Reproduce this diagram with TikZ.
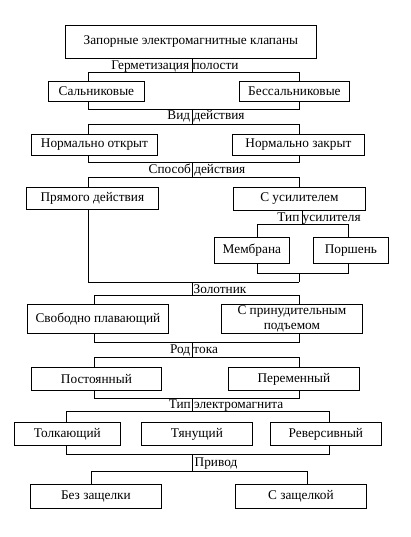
\documentclass[tikz,border=0pt]{standalone}
\usepackage{fontspec}
\setmainfont{Liberation Serif}
\usetikzlibrary{calc,positioning}

\begin{document}
\begin{tikzpicture}[
    x=1pt, y=1pt, line width=0.8pt,
    rekt/.style={rectangle,draw,inner sep=0pt,anchor=north west,align=center,font=\fontsize{13.3}{14.5}\selectfont},
    metka/.style={anchor=base,inner sep=0pt,font=\fontsize{13.3}{14.5}\selectfont}
  ]
    \useasboundingbox (0,0) rectangle (411,-537);

    % boxes
    \node (N0) at (65,-25) [rekt,minimum width=251pt,minimum height=33pt] {Запорные электромагнитные клапаны};
    \node (N1) at (48,-81) [rekt,minimum width=96pt,minimum height=20pt] {Сальниковые};
    \node (N2) at (239,-81) [rekt,minimum width=110pt,minimum height=20pt] {Бессальниковые};
    \node (N3) at (31,-134) [rekt,minimum width=126pt,minimum height=21pt] {Нормально открыт};
    \node (N4) at (232,-134) [rekt,minimum width=132pt,minimum height=21pt] {Нормально закрыт};
    \node (N5) at (26,-187) [rekt,minimum width=132pt,minimum height=22pt] {Прямого действия};
    \node (N6) at (233,-187) [rekt,minimum width=132pt,minimum height=23pt] {С усилителем};
    \node (N7) at (214,-237) [rekt,minimum width=75pt,minimum height=26pt] {Мембрана};
    \node (N8) at (313,-237) [rekt,minimum width=75pt,minimum height=26pt] {Поршень};
    \node (N9) at (27,-304) [rekt,minimum width=141pt,minimum height=29pt] {Свободно плавающий};
    \node (N10) at (221,-304) [rekt,minimum width=141pt,minimum height=29pt] {С принудительным\\подъемом};
    \node (N11) at (31,-367) [rekt,minimum width=130pt,minimum height=23pt] {Постоянный};
    \node (N12) at (228,-367) [rekt,minimum width=131pt,minimum height=23pt] {Переменный};
    \node (N13) at (14,-422) [rekt,minimum width=106pt,minimum height=23pt] {Толкающий};
    \node (N14) at (141,-422) [rekt,minimum width=111pt,minimum height=23pt] {Тянущий};
    \node (N15) at (270,-422) [rekt,minimum width=111pt,minimum height=23pt] {Реверсивный};
    \node (N16) at (30,-484) [rekt,minimum width=131pt,minimum height=24pt] {Без защелки};
    \node (N17) at (235,-484) [rekt,minimum width=131pt,minimum height=24pt] {С защелкой};

    % labels
    \node (L1) at (175,-70) [metka] {Герметизация полости};
    \node (L2) at (206,-120) [metka] {Вид действия};
    \node (L3) at (197,-174) [metka] {Способ действия};
    \node (L4) at (319,-222) [metka] {Тип усилителя};
    \node (L5) at (220,-293) [metka] {Золотник};
    \node (L6) at (194,-353) [metka] {Род тока};
    \node (L7) at (226,-408) [metka] {Тип электромагнита};
    \node (L8) at (216,-466) [metka] {Привод};

    % junctions
    \coordinate (A1) at (88,-72);   \coordinate (B1) at (299,-72);
    \coordinate (C1) at (88,-109);  \coordinate (D1) at (299,-109);
    \coordinate (A2) at (88,-124);  \coordinate (B2) at (299,-124);
    \coordinate (C2) at (88,-162);  \coordinate (D2) at (299,-162);
    \coordinate (A3) at (88,-177);  \coordinate (B3) at (299,-177);
    \coordinate (A4) at (257,-224); \coordinate (B4) at (348,-224);
    \coordinate (C4) at (257,-273); \coordinate (D4) at (348,-273);
    \coordinate (C3) at (88,-282);  \coordinate (D3) at (299,-282);
    \coordinate (A5) at (94,-295);  \coordinate (B5) at (299,-295);
    \coordinate (C5) at (94,-342);  \coordinate (D5) at (299,-342);
    \coordinate (A6) at (94,-357);  \coordinate (B6) at (299,-357);
    \coordinate (C6) at (94,-398);  \coordinate (D6) at (299,-398);
    \coordinate (A7) at (66,-411);  \coordinate (B7) at (329,-411);
    \coordinate (C7) at (66,-454);  \coordinate (D7) at (329,-454);
    \coordinate (A8) at (91,-471);  \coordinate (B8) at (307,-471);

    \draw (N0.south -| 192,0) -- (192,0 |- A1);
    \draw (A1 |- N1.north) -- (A1) -- (B1) -- (B1 |- N2.north);
    \draw (C1 |- N1.south) -- (C1) -- (D1) -- (D1 |- N2.south);
    \draw (192,0 |- C1) -- (192,0 |- A2);
    \draw (A2 |- N3.north) -- (A2) -- (B2) -- (B2 |- N4.north);
    \draw (C2 |- N3.south) -- (C2) -- (D2) -- (D2 |- N4.south);
    \draw (192,0 |- C2) -- (192,0 |- A3);
    \draw (A3 |- N5.north) -- (A3) -- (B3) -- (B3 |- N6.north);
    \draw (302,0 |- N6.south) -- (302,0 |- A4);
    \draw (A4 |- N7.north) -- (A4) -- (B4) -- (B4 |- N8.north);
    \draw (C4 |- N7.south) -- (C4) -- (D4) -- (D4 |- N8.south);
    \draw (D3 |- C4) -- (D3);
    \draw (C3 |- N5.south) -- (C3) -- (D3);
    \draw (192,0 |- C3) -- (192,0 |- A5);
    \draw (A5 |- N9.north) -- (A5) -- (B5) -- (B5 |- N10.north);
    \draw (C5 |- N9.south) -- (C5) -- (D5) -- (D5 |- N10.south);
    \draw (192,0 |- C5) -- (192,0 |- A6);
    \draw (A6 |- N11.north) -- (A6) -- (B6) -- (B6 |- N12.north);
    \draw (C6 |- N11.south) -- (C6) -- (D6) -- (D6 |- N12.south);
    \draw (192,0 |- C6) -- (192,0 |- A7);
    \draw (A7 |- N13.north) -- (A7) -- (B7) -- (B7 |- N15.north);
    \draw (C7 |- N13.south) -- (C7) -- (D7) -- (D7 |- N15.south);
    \draw (192,0 |- C7) -- (192,0 |- A8);
    \draw (A8 |- N16.north) -- (A8) -- (B8) -- (B8 |- N17.north);

  \end{tikzpicture}
\end{document}
